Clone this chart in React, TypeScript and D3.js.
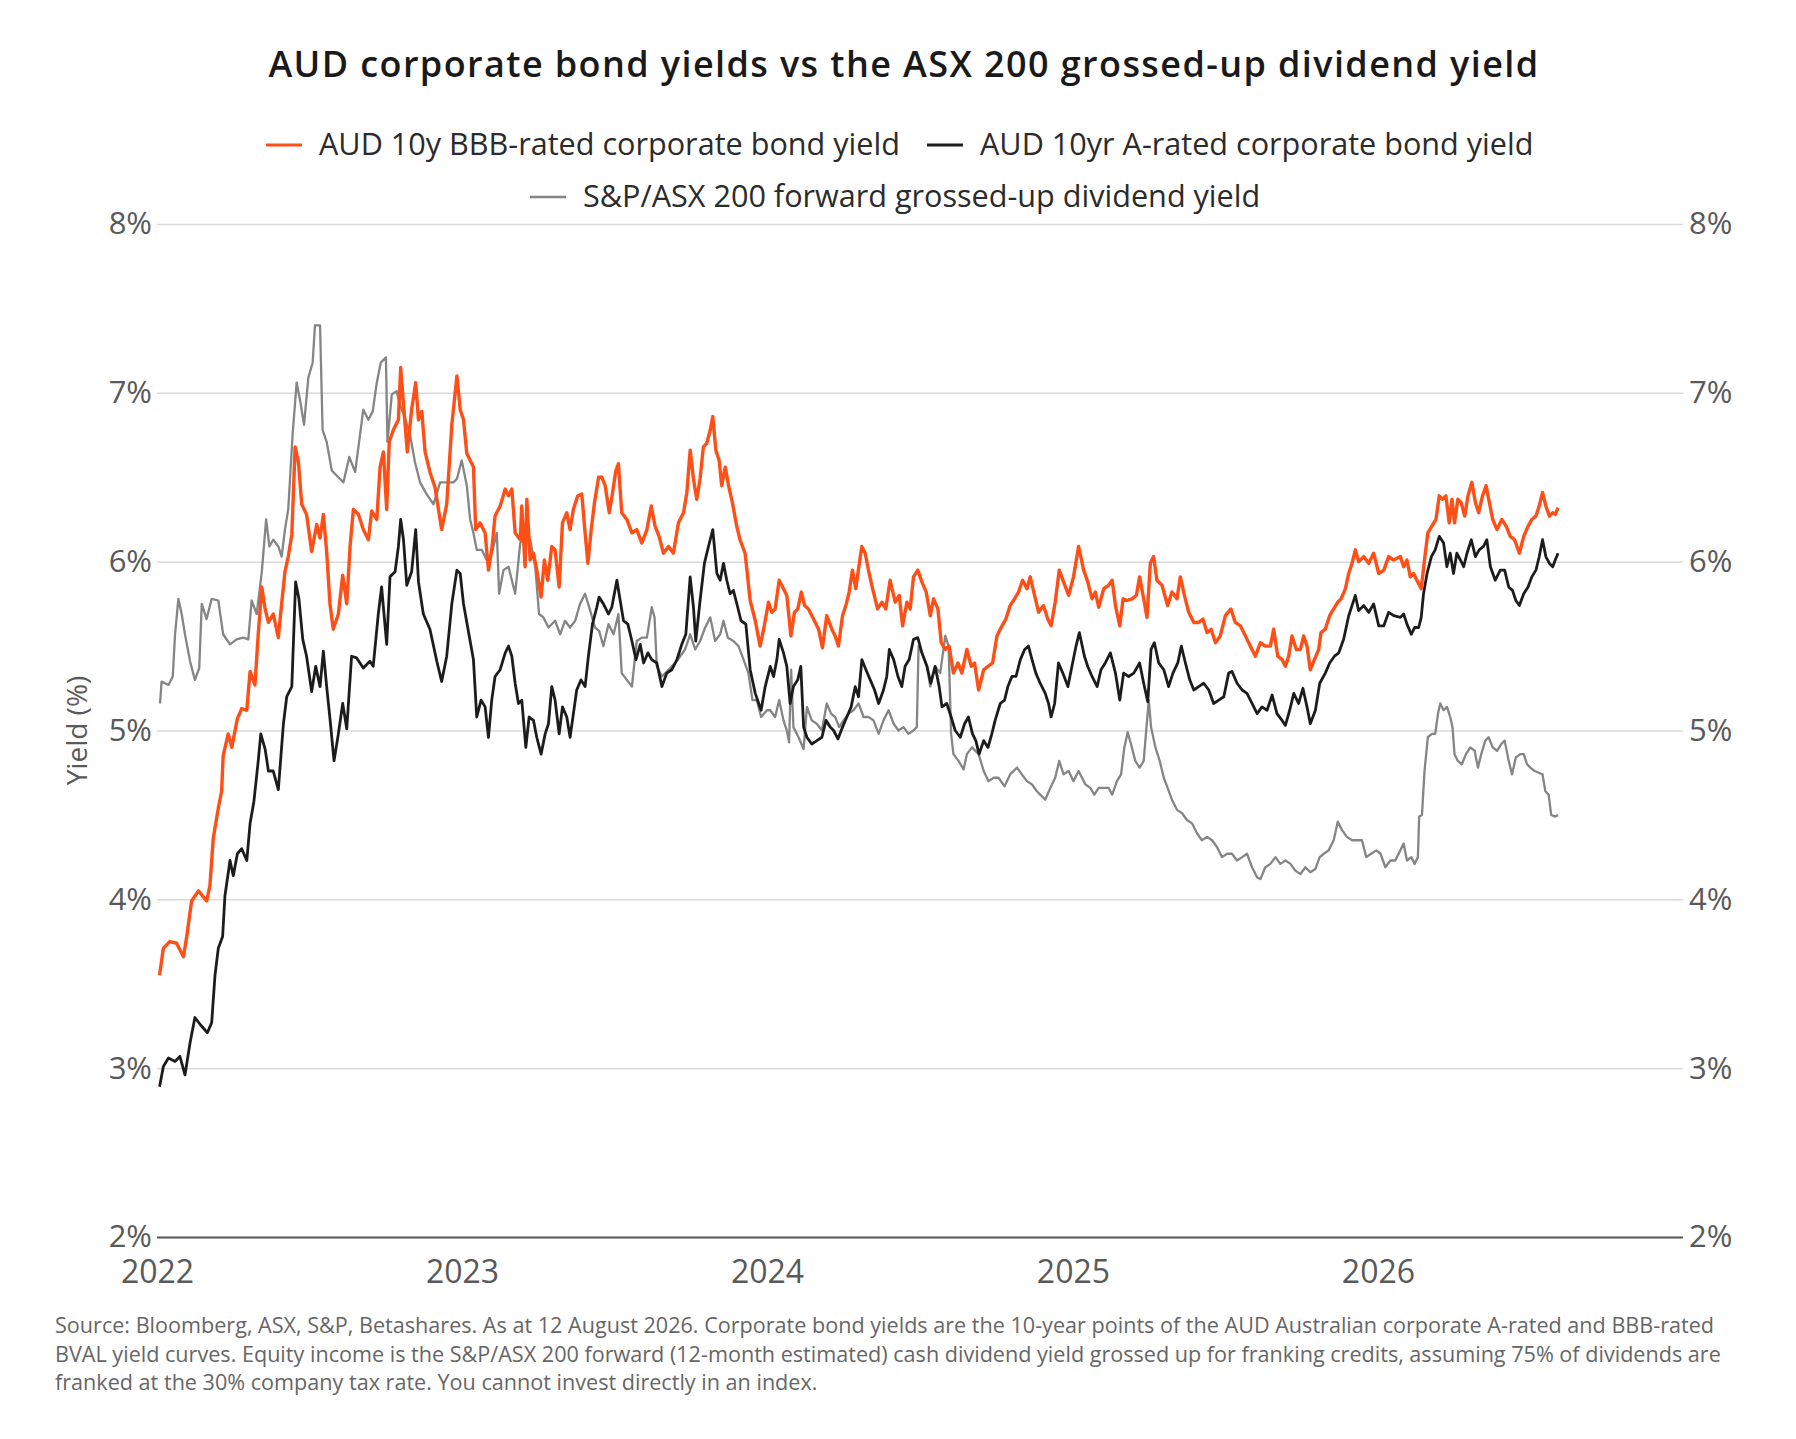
import React, { useEffect, useRef } from "react";
import * as d3 from "d3";

const TITLE = "AUD corporate bond yields vs the ASX 200 grossed-up dividend yield";
const seriesNames = [
  "AUD 10y BBB-rated corporate bond yield",
  "AUD 10yr A-rated corporate bond yield",
  "S&P/ASX 200 forward grossed-up dividend yield",
];
const yTicks = [2, 3, 4, 5, 6, 7, 8];
const xTickYears = [2022, 2023, 2024, 2025, 2026];
const footnoteLines = [
  "Source: Bloomberg, ASX, S&P, Betashares. As at 12 August 2026. Corporate bond yields are the 10-year points of the AUD Australian corporate A-rated and BBB-rated",
  "BVAL yield curves. Equity income is the S&P/ASX 200 forward (12-month estimated) cash dividend yield grossed up for franking credits, assuming 75% of dividends are",
  "franked at the 30% company tax rate. You cannot invest directly in an index.",
];

// [months since 1 Jan 2022, yield %]
const bbbYield: [number, number][] = [
  [0.1, 3.55], [0.25, 3.71], [0.5, 3.75], [0.77, 3.74], [1.04, 3.66], [1.17, 3.78], [1.36, 3.99], [1.63, 4.05],
  [1.95, 3.99], [2.08, 4.08], [2.21, 4.36], [2.41, 4.54], [2.54, 4.64], [2.6, 4.85], [2.8, 4.98], [2.94, 4.9],
  [3.16, 5.07], [3.33, 5.13], [3.53, 5.12], [3.66, 5.35], [3.85, 5.27], [3.98, 5.57], [4.12, 5.85], [4.25, 5.72],
  [4.38, 5.64], [4.57, 5.69], [4.77, 5.55], [4.86, 5.69], [5.03, 5.94], [5.16, 6.03], [5.3, 6.16], [5.43, 6.68],
  [5.56, 6.59], [5.69, 6.34], [5.88, 6.28], [6.08, 6.06], [6.28, 6.22], [6.41, 6.14], [6.54, 6.28], [6.67, 6.06],
  [6.8, 5.75], [6.93, 5.6], [7.13, 5.69], [7.3, 5.92], [7.46, 5.75], [7.59, 6.09], [7.72, 6.31], [7.92, 6.28],
  [8.11, 6.19], [8.31, 6.13], [8.44, 6.3], [8.64, 6.25], [8.77, 6.56], [8.9, 6.65], [9.03, 6.31], [9.13, 6.71],
  [9.29, 6.78], [9.49, 6.84], [9.58, 7.15], [9.69, 6.93], [9.84, 6.65], [10.01, 6.9], [10.17, 7.06], [10.28, 6.84],
  [10.41, 6.89], [10.54, 6.65], [10.73, 6.53], [10.93, 6.44], [11.19, 6.19], [11.39, 6.34], [11.59, 6.81], [11.79, 7.1],
  [11.92, 6.9], [12.05, 6.84], [12.18, 6.64], [12.31, 6.6], [12.44, 6.56], [12.53, 6.19], [12.7, 6.23], [12.9, 6.17],
  [13.03, 5.95], [13.16, 6.07], [13.29, 6.27], [13.49, 6.33], [13.69, 6.43], [13.82, 6.39], [13.95, 6.43], [14.08, 6.17],
  [14.28, 6.13], [14.34, 6.33], [14.47, 5.97], [14.54, 6.37], [14.67, 6.01], [14.8, 6.05], [14.93, 5.95], [15.1, 5.79],
  [15.23, 6.01], [15.36, 5.89], [15.52, 6.09], [15.65, 6.07], [15.81, 5.85], [15.94, 6.23], [16.11, 6.29], [16.24, 6.19],
  [16.37, 6.31], [16.54, 6.39], [16.7, 6.4], [16.83, 6.17], [16.94, 5.99], [17.07, 6.19], [17.2, 6.35], [17.36, 6.5],
  [17.49, 6.5], [17.62, 6.45], [17.78, 6.29], [17.91, 6.41], [18.04, 6.54], [18.14, 6.58], [18.27, 6.29], [18.47, 6.25],
  [18.67, 6.17], [18.86, 6.19], [19.06, 6.11], [19.26, 6.19], [19.43, 6.33], [19.58, 6.21], [19.74, 6.15], [19.91, 6.05],
  [20.11, 6.09], [20.3, 6.05], [20.5, 6.23], [20.7, 6.29], [20.83, 6.41], [20.96, 6.66], [21.09, 6.49], [21.22, 6.37],
  [21.35, 6.49], [21.48, 6.68], [21.61, 6.7], [21.75, 6.78], [21.85, 6.86], [21.97, 6.66], [22.1, 6.6], [22.2, 6.45],
  [22.34, 6.56], [22.47, 6.45], [22.62, 6.35], [22.79, 6.21], [22.92, 6.13], [23.12, 6.05], [23.32, 5.77], [23.52, 5.65],
  [23.71, 5.5], [23.85, 5.6], [24.04, 5.76], [24.17, 5.7], [24.3, 5.72], [24.46, 5.89], [24.63, 5.84], [24.76, 5.8],
  [24.92, 5.56], [25.06, 5.7], [25.19, 5.72], [25.33, 5.82], [25.46, 5.74], [25.61, 5.72], [25.81, 5.66], [26.01, 5.6],
  [26.16, 5.49], [26.33, 5.68], [26.53, 5.6], [26.66, 5.56], [26.79, 5.5], [26.95, 5.68], [27.08, 5.74], [27.21, 5.82],
  [27.34, 5.95], [27.47, 5.84], [27.61, 5.99], [27.71, 6.09], [27.84, 6.05], [27.97, 5.95], [28.13, 5.84], [28.33, 5.72],
  [28.5, 5.76], [28.65, 5.72], [28.82, 5.89], [29.02, 5.76], [29.18, 5.8], [29.31, 5.62], [29.48, 5.76], [29.61, 5.72],
  [29.74, 5.91], [29.91, 5.95], [30.07, 5.88], [30.24, 5.82], [30.4, 5.68], [30.53, 5.78], [30.7, 5.72], [30.83, 5.52],
  [30.99, 5.48], [31.14, 5.5], [31.31, 5.34], [31.49, 5.4], [31.64, 5.34], [31.84, 5.48], [32.01, 5.38], [32.14, 5.4],
  [32.3, 5.24], [32.5, 5.36], [32.67, 5.38], [32.85, 5.4], [33.02, 5.56], [33.22, 5.62], [33.37, 5.66], [33.54, 5.74],
  [33.71, 5.78], [33.87, 5.82], [34.03, 5.89], [34.2, 5.84], [34.33, 5.91], [34.5, 5.8], [34.66, 5.7], [34.85, 5.74],
  [35.02, 5.66], [35.15, 5.62], [35.31, 5.76], [35.47, 5.95], [35.64, 5.88], [35.84, 5.8], [36.03, 5.91], [36.23, 6.09],
  [36.43, 5.95], [36.59, 5.88], [36.76, 5.78], [36.89, 5.82], [37.02, 5.73], [37.22, 5.84], [37.41, 5.86], [37.55, 5.89],
  [37.68, 5.74], [37.85, 5.62], [37.98, 5.78], [38.13, 5.77], [38.33, 5.78], [38.5, 5.8], [38.63, 5.91], [38.79, 5.78],
  [38.92, 5.67], [39.05, 5.99], [39.18, 6.03], [39.31, 5.89], [39.51, 5.86], [39.73, 5.74], [39.9, 5.82], [40.1, 5.78],
  [40.23, 5.91], [40.39, 5.8], [40.56, 5.7], [40.76, 5.64], [40.95, 5.64], [41.12, 5.66], [41.28, 5.58], [41.44, 5.6],
  [41.61, 5.52], [41.8, 5.56], [42.0, 5.68], [42.22, 5.72], [42.39, 5.64], [42.59, 5.62], [42.79, 5.56], [42.98, 5.5],
  [43.18, 5.44], [43.38, 5.52], [43.57, 5.5], [43.77, 5.5], [43.9, 5.6], [44.06, 5.44], [44.23, 5.42], [44.36, 5.38],
  [44.49, 5.44], [44.62, 5.56], [44.79, 5.48], [44.95, 5.48], [45.08, 5.56], [45.21, 5.5], [45.34, 5.36], [45.5, 5.42],
  [45.67, 5.48], [45.76, 5.58], [45.93, 5.6], [46.1, 5.68], [46.26, 5.72], [46.42, 5.76], [46.55, 5.78], [46.72, 5.84],
  [46.85, 5.93], [46.98, 5.99], [47.11, 6.07], [47.24, 6.0], [47.44, 6.03], [47.64, 5.99], [47.83, 6.05], [48.03, 5.93],
  [48.23, 5.95], [48.42, 6.03], [48.62, 6.01], [48.88, 6.03], [49.01, 5.97], [49.14, 6.01], [49.27, 5.91], [49.4, 5.93],
  [49.53, 5.89], [49.7, 5.84], [49.83, 6.01], [49.96, 6.17], [50.12, 6.21], [50.28, 6.25], [50.41, 6.39], [50.54, 6.37],
  [50.67, 6.39], [50.8, 6.23], [50.91, 6.37], [51.01, 6.23], [51.14, 6.37], [51.27, 6.35], [51.41, 6.27], [51.54, 6.39],
  [51.69, 6.47], [51.83, 6.35], [51.96, 6.29], [52.11, 6.39], [52.25, 6.45], [52.38, 6.35], [52.51, 6.25], [52.68, 6.19],
  [52.87, 6.25], [53.04, 6.21], [53.2, 6.15], [53.37, 6.13], [53.56, 6.05], [53.73, 6.15], [53.9, 6.21], [54.05, 6.25],
  [54.21, 6.27], [54.34, 6.33], [54.47, 6.41], [54.6, 6.33], [54.74, 6.27], [54.87, 6.29], [54.97, 6.28], [55.08, 6.32],
];

const aYield: [number, number][] = [
  [0.1, 2.89], [0.25, 3.01], [0.45, 3.06], [0.71, 3.04], [0.9, 3.07], [1.1, 2.96], [1.3, 3.15], [1.49, 3.3],
  [1.69, 3.26], [1.98, 3.21], [2.15, 3.27], [2.28, 3.55], [2.41, 3.71], [2.58, 3.78], [2.67, 4.02], [2.87, 4.23],
  [3.0, 4.14], [3.16, 4.27], [3.33, 4.3], [3.53, 4.23], [3.66, 4.45], [3.81, 4.58], [3.98, 4.82], [4.08, 4.98],
  [4.25, 4.89], [4.38, 4.76], [4.57, 4.76], [4.77, 4.65], [4.97, 5.04], [5.1, 5.2], [5.3, 5.26], [5.45, 5.88],
  [5.58, 5.78], [5.73, 5.54], [5.88, 5.44], [6.08, 5.23], [6.24, 5.38], [6.41, 5.26], [6.54, 5.47], [6.67, 5.26],
  [6.8, 5.07], [6.96, 4.82], [7.13, 4.98], [7.3, 5.16], [7.46, 5.01], [7.65, 5.44], [7.85, 5.43], [8.11, 5.37],
  [8.37, 5.41], [8.5, 5.38], [8.7, 5.69], [8.83, 5.85], [9.03, 5.51], [9.16, 5.91], [9.36, 5.94], [9.49, 6.09],
  [9.58, 6.25], [9.69, 6.13], [9.82, 5.86], [10.01, 5.94], [10.17, 6.19], [10.28, 5.88], [10.47, 5.69], [10.73, 5.6],
  [11.0, 5.41], [11.19, 5.29], [11.39, 5.44], [11.59, 5.75], [11.79, 5.95], [11.92, 5.93], [12.05, 5.75], [12.24, 5.59],
  [12.44, 5.42], [12.57, 5.08], [12.74, 5.18], [12.9, 5.14], [13.03, 4.96], [13.16, 5.18], [13.29, 5.32], [13.49, 5.36],
  [13.69, 5.46], [13.82, 5.5], [13.95, 5.44], [14.08, 5.28], [14.21, 5.16], [14.34, 5.18], [14.5, 4.9], [14.63, 5.08],
  [14.8, 5.06], [14.93, 4.96], [15.1, 4.86], [15.26, 4.98], [15.39, 5.04], [15.52, 5.26], [15.65, 5.18], [15.81, 4.98],
  [15.94, 5.14], [16.11, 5.08], [16.24, 4.96], [16.37, 5.1], [16.5, 5.24], [16.67, 5.3], [16.83, 5.26], [16.96, 5.44],
  [17.12, 5.63], [17.29, 5.73], [17.38, 5.79], [17.55, 5.75], [17.75, 5.69], [17.88, 5.73], [18.08, 5.89], [18.21, 5.77],
  [18.34, 5.65], [18.51, 5.63], [18.67, 5.53], [18.83, 5.42], [19.0, 5.51], [19.13, 5.4], [19.3, 5.46], [19.45, 5.42],
  [19.65, 5.4], [19.85, 5.26], [20.04, 5.34], [20.24, 5.36], [20.44, 5.42], [20.63, 5.51], [20.79, 5.57], [20.96, 5.91],
  [21.09, 5.73], [21.18, 5.53], [21.35, 5.77], [21.52, 5.99], [21.68, 6.09], [21.85, 6.19], [22.01, 5.93], [22.14, 5.89],
  [22.27, 5.99], [22.4, 5.89], [22.53, 5.81], [22.66, 5.83], [22.83, 5.73], [22.96, 5.65], [23.15, 5.63], [23.32, 5.36],
  [23.52, 5.22], [23.75, 5.12], [23.91, 5.26], [24.11, 5.38], [24.24, 5.32], [24.37, 5.42], [24.46, 5.54], [24.63, 5.46],
  [24.76, 5.38], [24.89, 5.16], [25.02, 5.26], [25.19, 5.3], [25.31, 5.38], [25.42, 5.02], [25.55, 4.96], [25.74, 4.92],
  [25.94, 4.94], [26.14, 4.96], [26.3, 5.06], [26.47, 5.02], [26.6, 5.0], [26.77, 4.95], [26.95, 5.02], [27.12, 5.08],
  [27.29, 5.14], [27.45, 5.26], [27.58, 5.2], [27.71, 5.42], [27.87, 5.36], [28.04, 5.3], [28.21, 5.24], [28.37, 5.16],
  [28.56, 5.24], [28.69, 5.32], [28.79, 5.48], [28.96, 5.42], [29.13, 5.32], [29.28, 5.26], [29.41, 5.38], [29.57, 5.42],
  [29.74, 5.54], [29.91, 5.55], [30.07, 5.46], [30.27, 5.38], [30.42, 5.28], [30.59, 5.38], [30.75, 5.26], [30.86, 5.14],
  [31.05, 5.16], [31.22, 5.08], [31.38, 5.0], [31.58, 4.96], [31.75, 5.04], [31.9, 5.08], [32.06, 4.98], [32.19, 4.94],
  [32.32, 4.86], [32.5, 4.94], [32.67, 4.9], [32.82, 4.98], [32.95, 5.06], [33.15, 5.16], [33.32, 5.18], [33.45, 5.26],
  [33.61, 5.32], [33.77, 5.32], [33.94, 5.42], [34.11, 5.48], [34.26, 5.5], [34.4, 5.42], [34.55, 5.34], [34.72, 5.28],
  [34.92, 5.22], [35.05, 5.16], [35.15, 5.08], [35.29, 5.16], [35.44, 5.4], [35.61, 5.34], [35.81, 5.26], [35.97, 5.38],
  [36.13, 5.5], [36.26, 5.58], [36.46, 5.44], [36.59, 5.38], [36.76, 5.32], [36.96, 5.26], [37.11, 5.36], [37.28, 5.4],
  [37.48, 5.46], [37.68, 5.34], [37.85, 5.18], [38.0, 5.34], [38.2, 5.32], [38.4, 5.34], [38.63, 5.4], [38.79, 5.28],
  [38.95, 5.17], [39.08, 5.48], [39.21, 5.52], [39.38, 5.4], [39.58, 5.36], [39.77, 5.26], [39.94, 5.34], [40.13, 5.4],
  [40.27, 5.5], [40.43, 5.4], [40.6, 5.3], [40.76, 5.24], [40.95, 5.26], [41.15, 5.28], [41.35, 5.24], [41.54, 5.16],
  [41.74, 5.18], [41.94, 5.2], [42.13, 5.34], [42.26, 5.35], [42.46, 5.28], [42.66, 5.24], [42.85, 5.22], [43.05, 5.16],
  [43.25, 5.1], [43.44, 5.14], [43.64, 5.12], [43.84, 5.21], [44.03, 5.1], [44.23, 5.06], [44.36, 5.03], [44.53, 5.12],
  [44.69, 5.22], [44.88, 5.16], [45.05, 5.25], [45.21, 5.14], [45.34, 5.04], [45.54, 5.12], [45.71, 5.28], [45.93, 5.34],
  [46.1, 5.4], [46.29, 5.44], [46.46, 5.46], [46.65, 5.54], [46.85, 5.68], [46.98, 5.74], [47.11, 5.8], [47.24, 5.71],
  [47.44, 5.74], [47.64, 5.7], [47.83, 5.75], [48.03, 5.62], [48.23, 5.62], [48.42, 5.7], [48.62, 5.68], [48.88, 5.67],
  [49.01, 5.69], [49.14, 5.63], [49.31, 5.57], [49.44, 5.61], [49.6, 5.61], [49.7, 5.67], [49.79, 5.81], [49.93, 5.93],
  [50.1, 6.03], [50.25, 6.07], [50.41, 6.15], [50.58, 6.11], [50.71, 5.97], [50.84, 6.05], [50.97, 5.93], [51.1, 6.05],
  [51.24, 6.01], [51.37, 5.97], [51.5, 6.05], [51.67, 6.13], [51.83, 6.03], [51.98, 6.07], [52.15, 6.09], [52.28, 6.13],
  [52.42, 5.97], [52.61, 5.89], [52.81, 5.95], [52.98, 5.95], [53.14, 5.85], [53.29, 5.83], [53.42, 5.77], [53.56, 5.74],
  [53.73, 5.81], [53.9, 5.85], [54.05, 5.91], [54.21, 5.95], [54.34, 6.03], [54.47, 6.13], [54.6, 6.03], [54.74, 5.99],
  [54.87, 5.97], [54.97, 6.01], [55.08, 6.05],
];

const dividendYield: [number, number][] = [
  [0.12, 5.16], [0.18, 5.29], [0.45, 5.27], [0.62, 5.32], [0.71, 5.57], [0.84, 5.78], [0.97, 5.69], [1.1, 5.57],
  [1.3, 5.41], [1.49, 5.3], [1.66, 5.37], [1.76, 5.75], [1.95, 5.66], [2.15, 5.78], [2.41, 5.77], [2.6, 5.57],
  [2.87, 5.51], [3.13, 5.54], [3.39, 5.55], [3.59, 5.54], [3.72, 5.77], [3.92, 5.69], [4.12, 5.94], [4.29, 6.25],
  [4.42, 6.09], [4.57, 6.13], [4.77, 6.09], [4.9, 6.03], [5.03, 6.19], [5.16, 6.31], [5.33, 6.75], [5.49, 7.06],
  [5.62, 6.96], [5.78, 6.81], [5.95, 7.09], [6.12, 7.18], [6.21, 7.4], [6.41, 7.4], [6.51, 6.78], [6.67, 6.71],
  [6.87, 6.54], [7.13, 6.5], [7.33, 6.47], [7.56, 6.62], [7.79, 6.53], [7.98, 6.75], [8.11, 6.9], [8.31, 6.84],
  [8.48, 6.89], [8.64, 7.06], [8.8, 7.18], [9.0, 7.21], [9.06, 6.71], [9.23, 6.99], [9.42, 7.01], [9.55, 6.93],
  [9.75, 6.85], [9.95, 6.75], [10.14, 6.59], [10.34, 6.47], [10.6, 6.4], [10.87, 6.34], [11.13, 6.47], [11.39, 6.47],
  [11.65, 6.47], [11.79, 6.49], [11.98, 6.6], [12.18, 6.45], [12.31, 6.25], [12.44, 6.17], [12.57, 6.07], [12.77, 6.07],
  [12.96, 6.01], [13.16, 6.05], [13.36, 6.17], [13.45, 5.81], [13.62, 5.95], [13.82, 5.97], [14.08, 5.81], [14.28, 6.11],
  [14.47, 6.15], [14.67, 6.13], [14.87, 5.97], [15.02, 5.69], [15.19, 5.67], [15.39, 5.61], [15.65, 5.65], [15.85, 5.57],
  [16.04, 5.65], [16.24, 5.61], [16.44, 5.65], [16.63, 5.75], [16.83, 5.81], [17.03, 5.71], [17.22, 5.61], [17.38, 5.59],
  [17.55, 5.5], [17.75, 5.63], [17.95, 5.57], [18.14, 5.69], [18.27, 5.34], [18.47, 5.3], [18.67, 5.26], [18.86, 5.53],
  [19.06, 5.55], [19.26, 5.55], [19.45, 5.73], [19.56, 5.67], [19.65, 5.38], [19.85, 5.32], [20.11, 5.36], [20.37, 5.4],
  [20.57, 5.44], [20.76, 5.48], [20.96, 5.57], [21.16, 5.48], [21.35, 5.53], [21.55, 5.61], [21.75, 5.67], [21.94, 5.53],
  [22.14, 5.57], [22.27, 5.65], [22.44, 5.55], [22.66, 5.53], [22.86, 5.5], [23.06, 5.42], [23.25, 5.34], [23.41, 5.18],
  [23.58, 5.18], [23.75, 5.08], [23.98, 5.12], [24.11, 5.12], [24.3, 5.08], [24.46, 5.18], [24.63, 5.06], [24.76, 5.0],
  [24.85, 4.93], [24.93, 5.36], [25.02, 5.02], [25.22, 4.96], [25.42, 4.89], [25.55, 5.14], [25.74, 5.06], [25.94, 5.04],
  [26.14, 5.0], [26.33, 5.16], [26.5, 5.1], [26.66, 5.08], [26.82, 5.02], [26.99, 5.06], [27.19, 5.1], [27.38, 5.12],
  [27.58, 5.16], [27.78, 5.08], [27.97, 5.08], [28.17, 5.06], [28.37, 4.98], [28.56, 5.06], [28.76, 5.12], [28.96, 5.04],
  [29.15, 5.0], [29.35, 5.02], [29.54, 4.98], [29.74, 5.0], [29.87, 5.02], [29.94, 5.5], [30.07, 5.46], [30.27, 5.38],
  [30.4, 5.26], [30.59, 5.38], [30.79, 5.34], [30.99, 5.56], [31.12, 5.5], [31.22, 4.98], [31.31, 4.86], [31.51, 4.82],
  [31.71, 4.77], [31.84, 4.86], [32.04, 4.9], [32.3, 4.86], [32.5, 4.76], [32.69, 4.7], [32.89, 4.72], [33.08, 4.72],
  [33.32, 4.67], [33.54, 4.74], [33.81, 4.78], [34.0, 4.74], [34.2, 4.7], [34.4, 4.68], [34.59, 4.64], [34.79, 4.61],
  [34.92, 4.59], [35.12, 4.66], [35.31, 4.72], [35.47, 4.82], [35.64, 4.74], [35.84, 4.76], [36.03, 4.7], [36.23, 4.76],
  [36.5, 4.68], [36.69, 4.66], [36.85, 4.62], [37.02, 4.66], [37.22, 4.66], [37.41, 4.66], [37.55, 4.62], [37.74, 4.7],
  [37.9, 4.74], [38.03, 4.9], [38.16, 4.99], [38.29, 4.92], [38.46, 4.82], [38.63, 4.78], [38.79, 4.82], [38.9, 5.02],
  [38.99, 5.18], [39.08, 5.02], [39.25, 4.9], [39.42, 4.82], [39.58, 4.72], [39.73, 4.66], [39.9, 4.59], [40.1, 4.53],
  [40.3, 4.51], [40.49, 4.47], [40.69, 4.45], [40.89, 4.39], [41.08, 4.35], [41.28, 4.37], [41.48, 4.35], [41.67, 4.31],
  [41.87, 4.25], [42.07, 4.27], [42.26, 4.27], [42.46, 4.23], [42.66, 4.25], [42.85, 4.27], [43.05, 4.19], [43.25, 4.13],
  [43.38, 4.12], [43.57, 4.19], [43.77, 4.21], [43.97, 4.25], [44.16, 4.21], [44.36, 4.23], [44.56, 4.21], [44.75, 4.17],
  [44.95, 4.15], [45.15, 4.19], [45.34, 4.16], [45.54, 4.18], [45.71, 4.25], [45.87, 4.27], [46.06, 4.29], [46.26, 4.35],
  [46.42, 4.46], [46.59, 4.41], [46.78, 4.37], [46.98, 4.35], [47.18, 4.35], [47.37, 4.35], [47.54, 4.25], [47.73, 4.27],
  [47.94, 4.29], [48.1, 4.27], [48.29, 4.19], [48.49, 4.23], [48.68, 4.23], [48.88, 4.29], [49.01, 4.33], [49.14, 4.23],
  [49.31, 4.25], [49.44, 4.21], [49.57, 4.25], [49.62, 4.49], [49.73, 4.5], [49.83, 4.76], [49.96, 4.96], [50.12, 4.98],
  [50.25, 4.98], [50.36, 5.1], [50.45, 5.16], [50.58, 5.12], [50.71, 5.14], [50.84, 5.08], [50.93, 5.02], [51.01, 4.86],
  [51.14, 4.82], [51.3, 4.8], [51.46, 4.86], [51.63, 4.9], [51.8, 4.88], [51.93, 4.78], [52.06, 4.86], [52.22, 4.94],
  [52.35, 4.96], [52.51, 4.9], [52.68, 4.88], [52.85, 4.92], [52.98, 4.94], [53.14, 4.82], [53.27, 4.74], [53.42, 4.84],
  [53.59, 4.86], [53.73, 4.86], [53.86, 4.8], [53.99, 4.78], [54.16, 4.76], [54.32, 4.75], [54.47, 4.74], [54.58, 4.64],
  [54.71, 4.62], [54.81, 4.5], [54.97, 4.49], [55.08, 4.5],
];

const FONT = '"Open Sans", sans-serif';
const START = new Date(2022, 0, 1);
const toDate = (m: number) => new Date(START.getTime() + m * 30.4375 * 864e5);

export default function App() {
  const ref = useRef<SVGSVGElement>(null);

  useEffect(() => {
    const svg = d3.select(ref.current);
    svg.selectAll("*").remove();

    const width = 1796;
    const height = 1439;
    const margin = { top: 224, right: 113, bottom: 202, left: 157 };

    const x = d3
      .scaleTime()
      .domain([START, new Date(2027, 0, 1)])
      .range([margin.left, width - margin.right]);

    const y = d3
      .scaleLinear()
      .domain([2, 8])
      .range([height - margin.bottom, margin.top]);

    svg.attr("font-family", FONT);

    // title
    svg
      .append("text")
      .attr("x", 904)
      .attr("y", 77)
      .attr("text-anchor", "middle")
      .attr("font-size", "36px")
      .attr("font-weight", 600)
      .attr("letter-spacing", "1.4px")
      .attr("fill", "#1a1a1a")
      .text(TITLE);

    // gridlines + left axis
    const left = svg
      .append("g")
      .attr("transform", `translate(${margin.left},0)`)
      .call(
        d3
          .axisLeft(y)
          .tickValues(yTicks)
          .tickSize(-(width - margin.left - margin.right))
          .tickPadding(5)
          .tickFormat((d) => `${d}%`)
      );
    left.select(".domain").remove();
    left
      .selectAll(".tick line")
      .attr("stroke", (d: any) => (d === 2 ? "#555555" : "#dadada"))
      .attr("stroke-width", (d: any) => (d === 2 ? 2.2 : 1.5));
    left
      .selectAll(".tick text")
      .attr("font-size", "31px")
      .attr("font-family", FONT)
      .attr("fill", "#595959");

    const right = svg
      .append("g")
      .attr("transform", `translate(${width - margin.right},0)`)
      .call(
        d3
          .axisRight(y)
          .tickValues(yTicks)
          .tickSize(0)
          .tickPadding(6)
          .tickFormat((d) => `${d}%`)
      );
    right.select(".domain").remove();
    right
      .selectAll(".tick text")
      .attr("font-size", "31px")
      .attr("font-family", FONT)
      .attr("fill", "#595959");

    const bottom = svg
      .append("g")
      .attr("transform", `translate(0,${height - margin.bottom})`)
      .call(
        d3
          .axisBottom(x)
          .tickValues(xTickYears.map((yr) => new Date(yr, 0, 1)))
          .tickSize(0)
          .tickPadding(23)
          .tickFormat((d) => d3.timeFormat("%Y")(d as Date))
      );
    bottom.select(".domain").remove();
    bottom
      .selectAll(".tick text")
      .attr("font-size", "32px")
      .attr("font-family", FONT)
      .attr("fill", "#595959");

    // y axis title
    svg
      .append("text")
      .attr("transform", `translate(87,${(margin.top + height - margin.bottom) / 2}) rotate(-90)`)
      .attr("text-anchor", "middle")
      .attr("font-size", "28px")
      .attr("fill", "#595959")
      .text("Yield (%)");

    const series = [
      { name: seriesNames[2], data: dividendYield, color: "#858585", width: 2.3 },
      { name: seriesNames[1], data: aYield, color: "#1c1c1c", width: 2.8 },
      { name: seriesNames[0], data: bbbYield, color: "#ff4f17", width: 3.4 },
    ];

    const line = d3
      .line<[number, number]>()
      .x((d) => x(toDate(d[0])))
      .y((d) => y(d[1]));

    svg
      .append("g")
      .selectAll("path")
      .data(series)
      .join("path")
      .attr("d", (s) => line(s.data)!)
      .attr("fill", "none")
      .attr("stroke", (s) => s.color)
      .attr("stroke-width", (s) => s.width)
      .attr("stroke-linejoin", "round");

    // legend
    const legendItems = [
      { name: seriesNames[0], color: "#ff4f17", width: 3, x: 266, y: 145 },
      { name: seriesNames[1], color: "#1c1c1c", width: 3, x: 927, y: 145 },
      { name: seriesNames[2], color: "#858585", width: 2.5, x: 530, y: 197 },
    ];
    const legend = svg.append("g");
    const items = legend
      .selectAll("g")
      .data(legendItems)
      .join("g")
      .attr("transform", (d) => `translate(${d.x},${d.y})`);
    items
      .append("line")
      .attr("x1", 0)
      .attr("x2", 36)
      .attr("stroke", (d) => d.color)
      .attr("stroke-width", (d) => d.width);
    items
      .append("text")
      .attr("x", 53)
      .attr("y", 10)
      .attr("font-size", "30.6px")
      .attr("fill", "#2b2b2b")
      .text((d) => d.name);

    // footnote
    svg
      .append("g")
      .selectAll("text")
      .data(footnoteLines)
      .join("text")
      .attr("x", 55)
      .attr("y", (_, i) => 1333 + i * 28.5)
      .attr("font-size", "21.6px")
      .attr("fill", "#666666")
      .text((d) => d);
  }, []);

  return (
    <svg
      ref={ref}
      width={1796}
      height={1439}
      style={{ position: "absolute", left: 0, top: 0, display: "block" }}
    />
  );
}
